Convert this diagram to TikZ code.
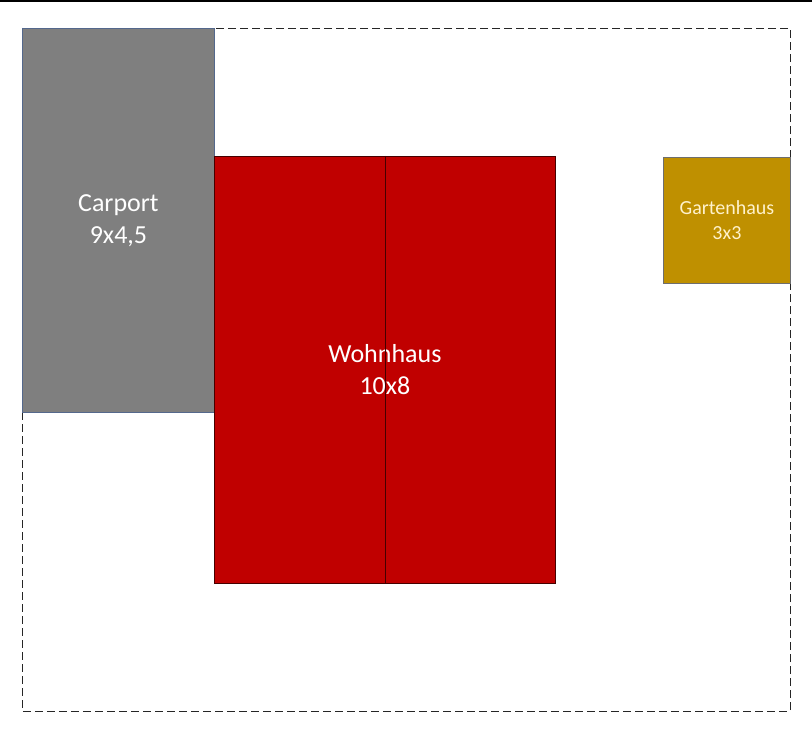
\documentclass[tikz,border=0pt]{standalone}
\usepackage{fontspec}
\setmainfont{Carlito}
\definecolor{main}{RGB}{192,0,0}
\definecolor{second}{RGB}{127,127,127}
\definecolor{third}{RGB}{191,144,0}
\definecolor{mainline}{RGB}{70,0,0}
\definecolor{secondline}{RGB}{84,104,140}
\definecolor{thirdline}{RGB}{110,110,110}
\definecolor{thirdtext}{RGB}{255,242,204}
\usetikzlibrary{positioning}
\tikzset{
  % line
	csttop/.style     ={line width=1.6pt},          % top rule
	cstplot/.style    ={line width=0.9pt, draw=black!85, dash pattern=on 8pt off 4pt}, % plot border
	cstsplit/.style   ={line width=1pt, draw=mainline}, % ridge line
  % node
	cstnode/.style    ={draw, line width=0.9pt, inner sep=0pt, anchor=north west, align=center, text=white, font=\fontsize{26}{32}\selectfont},
	cstnode1/.style   ={cstnode, fill=main, draw=mainline},
	cstnode2/.style   ={cstnode, fill=second, draw=secondline},
	cstnode3/.style   ={cstnode, fill=third, draw=thirdline, text=thirdtext, font=\fontsize{20}{25}\selectfont}
}

\begin{document}
\begin{tikzpicture}[x=1pt,y=-1pt]
	\useasboundingbox (0,0) rectangle (812,730);
	\draw[csttop] (0,0.8)--(812,0.8);
	\draw[cstplot] (22,28) rectangle (790,711);
	\node[cstnode2, minimum width=192pt, minimum height=384pt] (carport) at (22,28) {Carport\\9x4,5};
	\node[cstnode1, minimum width=341pt, minimum height=427pt] (haus) at (214,156) {Wohnhaus\\10x8};
	\draw[cstsplit] ([xshift=0.5pt]haus.north)--([xshift=0.5pt]haus.south);
	\node[cstnode3, minimum width=127pt, minimum height=126pt] (garten) at (663,157) {Gartenhaus\\3x3};
\end{tikzpicture}
\end{document}
